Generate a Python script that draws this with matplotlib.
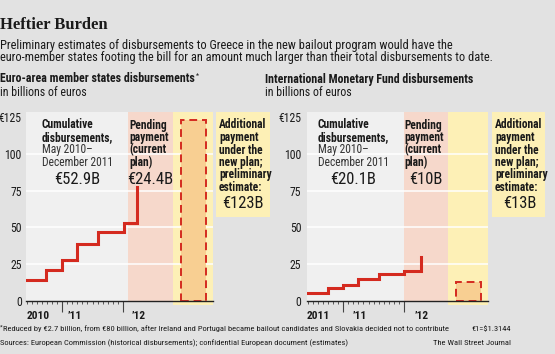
import matplotlib
matplotlib.use("Agg")
import matplotlib.pyplot as plt
from matplotlib import font_manager
from matplotlib.patches import Rectangle

# data, x in months counted from Jan 2010 (= 0)
eu_months = [4.9, 8.8, 12.0, 15.0, 19.0, 24.2, 26.8]
eu_cum = [14.5, 21, 28, 38.5, 47, 52.9, 77.3]
eu_new = 123

imf_months = [4.9, 9.0, 12.0, 14.9, 19.1, 23.9, 27.3]
imf_cum = [5.6, 9, 11, 15, 18, 20.1, 30.1]
imf_new = 13

y_ticks = [0, 25, 50, 75, 100, 125]
y_labels = ["0", "25", "50", "75", "100", "€125"]
eu_year_labels = ["2010", "\u201911", "\u201912"]
imf_year_labels = ["2011", "\u201911", "\u201912"]
eu_totals = ["€52.9B", "€24.4B", "€123B"]
imf_totals = ["€20.1B", "€10B", "€13B"]

# fonts
names = {f.name for f in font_manager.fontManager.ttflist}
narrow = "DejaVu Sans"
for cand in ["Liberation Sans Narrow", "DejaVu Sans Condensed", "Roboto Condensed", "Open Sans Condensed", "Liberation Sans"]:
    if cand in names:
        narrow = cand
        break
plt.rcParams["font.family"] = [narrow, "DejaVu Sans"]

W, H = 555, 354
BG = "#e2e2e2"
GRAY = "#f0f0f0"
PINK = "#f6d8cb"
YELLOW = "#fdf0b6"
ORANGE = "#f8cf92"
RED = "#d42a1f"
INK = "#1a1a1a"

fig = plt.figure(figsize=(W / 100, H / 100), dpi=100, facecolor=BG)
renderer = fig.canvas.get_renderer()


def px(x, y):
    return x / W, 1 - y / H


def ftext(x, y, s, **kw):
    kw.setdefault("color", INK)
    kw.setdefault("va", "center")
    return fig.text(*px(x, y), s, **kw)


def star_after(t, y, size):
    # small raised asterisk right after a text
    bb = t.get_window_extent(renderer)
    fig.text(bb.x1 / W + 0.002, 1 - (y - 3) / H, "*", fontsize=size, color=INK, va="center")


# header
fig.text(*px(0, 25), "Heftier Burden", fontsize=12, fontweight="bold",
         family=["Liberation Serif", "DejaVu Serif"], color=INK, va="center")
ftext(0, 45, "Preliminary estimates of disbursements to Greece in the new bailout program would have the", fontsize=8.9)
ftext(0, 57, "euro-member states footing the bill for an amount much larger than their total disbursements to date.", fontsize=8.9)


def panel(x0, x1, xlim, months, cum, new, gray_end, pink_end, box, year_labels, year_x, label_pad):
    top, bottom = 112, 305.3
    ax = fig.add_axes([x0 / W, 1 - bottom / H, (x1 - x0) / W, (bottom - top) / H])
    ax.set_facecolor("none")
    ax.set_xlim(*xlim)
    ax.set_ylim(-3, 128.5)
    ax.axvspan(xlim[0], gray_end, ymin=3 / 131.5, ymax=1, color=GRAY, lw=0, zorder=0)
    ax.axvspan(gray_end, pink_end, ymin=3 / 131.5, ymax=1, color=PINK, lw=0, zorder=0)
    ax.axvspan(pink_end, xlim[1], color=YELLOW, lw=0, zorder=0)
    for v in y_ticks[1:-1]:
        ax.axhline(v, color="white", lw=1.1, zorder=1)
    ax.add_patch(Rectangle((box[0], 0), box[1] - box[0], new, facecolor=ORANGE,
                           edgecolor=RED, lw=1.4, ls=(0, (4, 2.5)), zorder=2))
    ax.plot(months, cum, drawstyle="steps-post", color=RED, lw=2.2,
            solid_joinstyle="miter", zorder=3)
    for s in ["top", "right", "left"]:
        ax.spines[s].set_visible(False)
    ax.spines["bottom"].set_position(("data", 0))
    ax.spines["bottom"].set_color("#222222")
    ax.spines["bottom"].set_linewidth(1)
    ax.spines["bottom"].set_zorder(4)
    ax.set_xticks([12, 24])
    ax.set_xticklabels([])
    ax.set_xticks(range(5, 24), minor=True)
    ax.tick_params(axis="x", which="major", length=8, width=0.8, color="#444444")
    ax.tick_params(axis="x", which="minor", length=2.5, width=0.6, color="#444444")
    ax.set_yticks(y_ticks)
    ax.set_yticklabels(y_labels)
    ax.tick_params(axis="y", length=0, pad=label_pad, labelsize=8.5, labelcolor=INK)
    for lab, xx in zip(year_labels, year_x):
        ax.text(xx, -10.5, lab, ha="left", va="center", fontsize=8.2,
                fontweight="bold", color=INK, clip_on=False)
    return ax


panel(26, 213, (4.9, 41.7), eu_months, eu_cum, eu_new, 25.0, 33.8, (35.4, 40.3),
      eu_year_labels, [5.1, 13.0, 25.7], 3)
panel(307, 488, (4.9, 40.5), imf_months, imf_cum, imf_new, 24.0, 32.7, (34.2, 39.2),
      imf_year_labels, [4.9, 13.8, 26.0], 4)

# section headings
t = ftext(0, 79, "Euro-area member states disbursements", fontsize=8.6, fontweight="bold")
star_after(t, 79, 5)
ftext(0, 93, "in billions of euros", fontsize=8.6)
ftext(265, 79, "International Monetary Fund disbursements", fontsize=8.6, fontweight="bold")
ftext(265, 93, "in billions of euros", fontsize=8.6)

# annotations in each panel
line_y = [125, 137.5, 150, 162.5, 175, 187.5]


def notes(xc, xp, xb, bx0, bx1, totals, tot_x):
    for i, s in enumerate(["Cumulative", "disbursements,"]):
        ftext(xc, line_y[i], s, fontsize=8.3, fontweight="bold")
    for i, s in enumerate(["May 2010\u2013", "December 2011"]):
        ftext(xc, line_y[i + 2], s, fontsize=8.3, color="#333333")
    for i, s in enumerate(["Pending", "payment", "(current", "plan)"]):
        ftext(xp, line_y[i], s, fontsize=8.3, fontweight="bold")
    fig.patches.append(Rectangle(px(bx0, 217), (bx1 - bx0) / W, 105 / H,
                                 transform=fig.transFigure, facecolor=YELLOW, lw=0))
    for i, s in enumerate(["Additional", "payment", "under the", "new plan;", "preliminary", "estimate:"]):
        ftext(xb, line_y[i], s, fontsize=8.3, fontweight="bold")
    for s, (x, y) in zip(totals, tot_x):
        ftext(x, y, s, fontsize=12, ha="center")


notes(42, 129, 219, 216, 270, eu_totals, [(77, 180), (150, 180), (243, 204)])
notes(318, 404, 495, 492, 545, imf_totals, [(353, 180), (426, 180), (520, 204)])

# footer
ftext(0, 327, "*", fontsize=4.5)
ftext(3, 329, "Reduced by €2.7 billion, from €80 billion, after Ireland and Portugal became bailout candidates and Slovakia decided not to contribute", fontsize=6.1)
ftext(511, 329, "€1=$1.3144", fontsize=6.1, ha="right")
ftext(0, 343, "Sources: European Commission (historical disbursements); confidential European document (estimates)", fontsize=6.1)
ftext(511, 343, "The Wall Street Journal", fontsize=6.1, ha="right")

fig.savefig("out.png", dpi=100, facecolor=BG)
